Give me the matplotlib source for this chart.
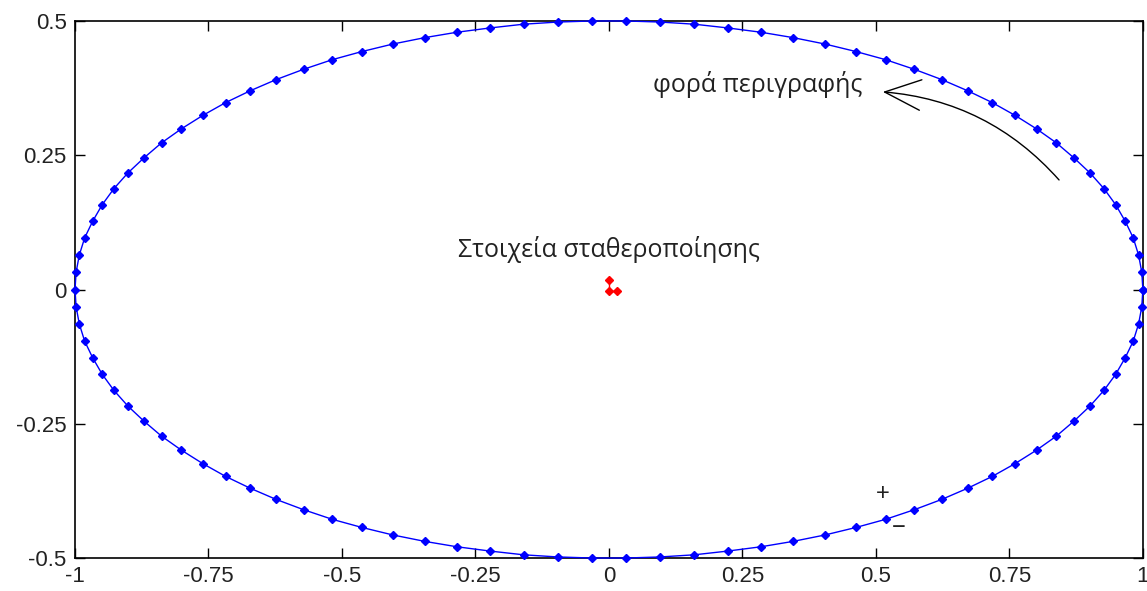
import numpy as np
import matplotlib.pyplot as plt

# first-quadrant samples of the locus (x, y), from the +x axis up to the top
quarter_x = [1.000, 0.998, 0.992, 0.982, 0.967, 0.949, 0.927, 0.901, 0.871,
             0.838, 0.801, 0.761, 0.718, 0.672, 0.623, 0.572, 0.518, 0.463,
             0.405, 0.345, 0.285, 0.223, 0.160, 0.096, 0.032]
quarter_y = [0.000, 0.032, 0.064, 0.096, 0.127, 0.158, 0.188, 0.217, 0.245,
             0.273, 0.299, 0.324, 0.348, 0.370, 0.391, 0.410, 0.428, 0.443,
             0.457, 0.469, 0.479, 0.487, 0.494, 0.498, 0.500]

# stabilising elements near the origin
stab_x = [0.000, 0.000, 0.016]
stab_y = [0.018, -0.002, -0.002]

xticks = [-1, -0.75, -0.5, -0.25, 0, 0.25, 0.5, 0.75, 1]
xtick_labels = ['-1', '-0.75', '-0.5', '-0.25', '0', '0.25', '0.5', '0.75', '1']
yticks = [-0.5, -0.25, 0, 0.25, 0.5]
ytick_labels = ['-0.5', '-0.25', '0', '0.25', '0.5']

# mirror the quarter into the full closed curve
qx = np.array(quarter_x)
qy = np.array(quarter_y)
upper_x = np.concatenate([qx, -qx[::-1]])
upper_y = np.concatenate([qy, qy[::-1]])
lower_x = upper_x[-2:0:-1]
lower_y = -upper_y[-2:0:-1]
curve_x = np.concatenate([upper_x, lower_x, upper_x[:1]])
curve_y = np.concatenate([upper_y, lower_y, upper_y[:1]])

fig = plt.figure(figsize=(11.47, 5.91), dpi=100)
ax = fig.add_axes([0.0654, 0.0558, 0.931, 0.9087])

ax.plot(curve_x, curve_y, color='#0000ff', lw=1.0, marker='D', markersize=4,
        clip_on=False, zorder=3)
ax.plot(stab_x, stab_y, color='#ff0000', lw=1.0, marker='D', markersize=4,
        zorder=3)

ax.set_xlim(-1, 1)
ax.set_ylim(-0.5, 0.5)
ax.set_xticks(xticks)
ax.set_xticklabels(xtick_labels)
ax.set_yticks(yticks)
ax.set_yticklabels(ytick_labels)
ax.tick_params(direction='in', length=7, width=1, top=True, right=True,
               labelsize=16, colors='black', pad=6)
for lab in ax.get_xticklabels() + ax.get_yticklabels():
    lab.set_family('Liberation Sans')
    lab.set_color('#222222')
for sp in ax.spines.values():
    sp.set_linewidth(1.2)

txt_font = ['Open Sans', 'DejaVu Sans']
ax.text(-0.283, 0.074, 'Στοιχεία σταθεροποίησης', fontsize=18,
        family=txt_font, va='center', ha='left', color='#222222')
ax.text(0.082, 0.381, 'φορά περιγραφής', fontsize=18,
        family=txt_font, va='center', ha='left', color='#222222')
ax.annotate('', xy=(0.513, 0.368), xytext=(0.843, 0.204),
            arrowprops=dict(arrowstyle='->,head_length=1.3,head_width=0.55',
                            connectionstyle='arc3,rad=0.2', color='black',
                            lw=1.0, mutation_scale=20, shrinkA=0, shrinkB=0))
ax.text(0.513, -0.381, '+', fontsize=17, family='Liberation Sans',
        ha='center', va='center', color='#222222')
ax.text(0.543, -0.444, '\u2212', fontsize=17, family='Liberation Sans',
        ha='center', va='center', color='#222222')

fig.savefig('out.png', dpi=100)
